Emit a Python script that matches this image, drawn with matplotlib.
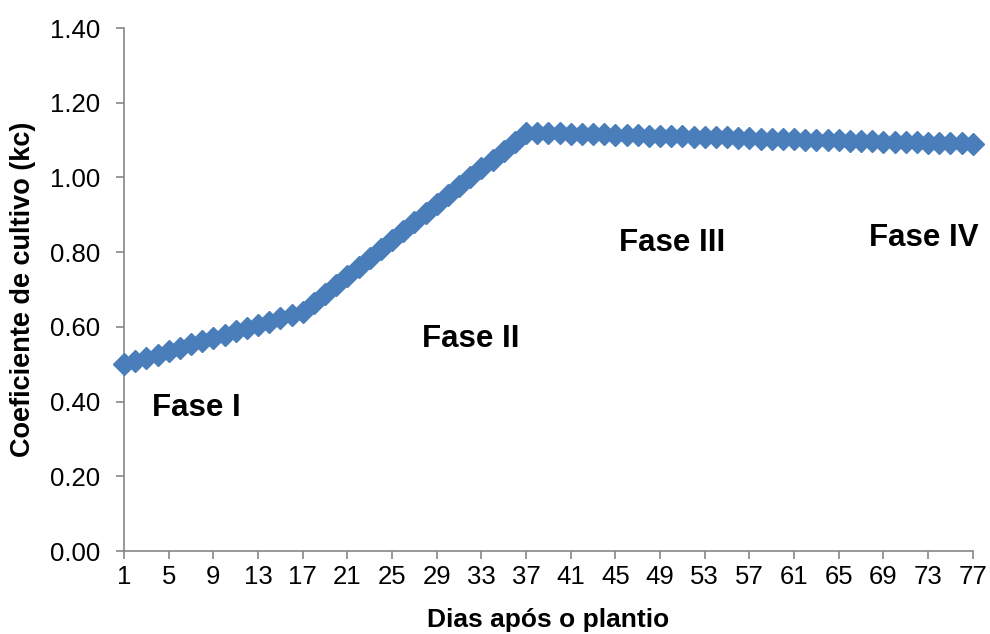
import matplotlib
matplotlib.use("Agg")
import matplotlib.pyplot as plt

days = list(range(1, 78))
kc = [0.500, 0.509, 0.518, 0.526, 0.535, 0.544, 0.553, 0.561, 0.570, 0.579,
      0.588, 0.596, 0.605, 0.614, 0.623, 0.631, 0.640,
      0.664, 0.688, 0.712, 0.736, 0.760, 0.784, 0.808, 0.832, 0.856,
      0.880, 0.904, 0.928, 0.952, 0.976, 1.000, 1.024, 1.048, 1.072, 1.096, 1.120,
      1.119, 1.119, 1.118, 1.117, 1.116, 1.116, 1.115, 1.114, 1.113, 1.113,
      1.112, 1.111, 1.110, 1.110, 1.109, 1.108, 1.107, 1.107, 1.106, 1.105,
      1.104, 1.104, 1.103, 1.102, 1.101, 1.101, 1.100, 1.099, 1.098, 1.098,
      1.097, 1.096, 1.095, 1.095, 1.094, 1.093, 1.092, 1.092, 1.091, 1.090]
xticks = list(range(1, 78, 4))
yticks = [0.0, 0.2, 0.4, 0.6, 0.8, 1.0, 1.2, 1.4]
phase_labels = ["Fase I", "Fase II", "Fase III", "Fase IV"]
phase_pos = [(3.5, 0.383), (27.7, 0.567), (45.3, 0.824), (67.7, 0.838)]

plt.rcParams['font.family'] = ['Liberation Sans', 'DejaVu Sans']
fig = plt.figure(figsize=(9.9, 6.34), dpi=100)
ax = fig.add_axes([0.1253, 0.1309, 0.9825 - 0.1253, 0.9558 - 0.1309])

color = "#4A7EBB"
ax.plot(days, kc, color=color, lw=2.5, marker='D', markersize=11.5,
        markerfacecolor=color, markeredgecolor=color, clip_on=False, zorder=3)

ax.set_xlim(1, 77)
ax.set_ylim(0, 1.4)
ax.set_xticks(xticks)
ax.set_xticklabels([str(t) for t in xticks])
ax.set_yticks(yticks)
ax.set_yticklabels([f"{v:.2f}" for v in yticks])

axis_color = "#868686"
for s in ['top', 'right']:
    ax.spines[s].set_visible(False)
for s in ['left', 'bottom']:
    ax.spines[s].set_color(axis_color)
    ax.spines[s].set_linewidth(1.2)
ax.tick_params(axis='both', colors=axis_color, labelcolor='black', labelsize=18.5,
               length=6, width=1.2, direction='out')
ax.tick_params(axis='x', pad=4)
ax.tick_params(axis='y', pad=11)

ax.set_xlabel("Dias após o plantio", fontsize=19, fontweight='bold')
ax.set_ylabel("Coeficiente de cultivo (kc)", fontsize=19.5, fontweight='bold')
ax.xaxis.label.set_va('center')
ax.yaxis.label.set_va('center')
ax.xaxis.set_label_coords(0.5, -0.132)
ax.yaxis.set_label_coords(-0.119, 0.5)

for lab, (x, y) in zip(phase_labels, phase_pos):
    ax.text(x, y, lab, fontsize=22.5, fontweight='bold', ha='left', va='center')

fig.savefig("out.png", dpi=100)
